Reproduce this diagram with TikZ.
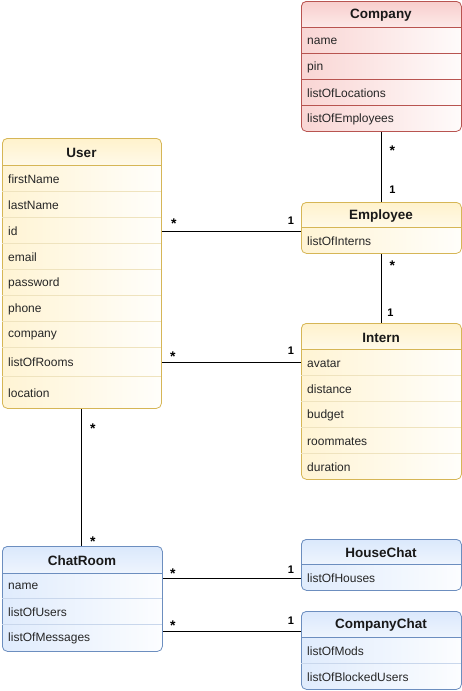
\documentclass[tikz,border=0pt]{standalone}
\usepackage{fontspec}
\setmainfont{Liberation Sans}
\usetikzlibrary{calc}
\definecolor{ufill}{HTML}{FFF2CC}
\definecolor{uline}{HTML}{D6B656}
\definecolor{usep}{HTML}{EFE3BE}
\definecolor{cfill}{HTML}{F8CECC}
\definecolor{cline}{HTML}{B85450}
\definecolor{csep}{HTML}{B85450}
\definecolor{bfill}{HTML}{DAE8FC}
\definecolor{bline}{HTML}{6C8EBF}
\definecolor{bsep}{HTML}{C9D7EC}
\tikzset{
  titletext/.style={font=\bfseries\fontsize{13.5}{14}\selectfont, inner sep=0, text=black!90, yshift=-1.5pt},
  rowtext/.style={font=\fontsize{12}{13}\selectfont, inner xsep=6pt, inner ysep=0, align=left, text=black!85},
  assoc/.style={line width=0.9pt, black},
  mult/.style={font=\bfseries\fontsize{11}{11}\selectfont, inner sep=0, anchor=base},
  star/.style={font=\bfseries\fontsize{14}{14}\selectfont, inner sep=0, anchor=base},
}
\newcommand\umlclass[9]{%
  \begin{scope}
    \clip[rounded corners=5pt] (#2,#4) rectangle (#3,#6);
    \shade[top color=#8fill, bottom color=#8fill!45!white] (#2,#4) rectangle (#3,#5);
    \foreach \kk/\lbl/\ya/\yb in {#9}{%
      \shade[left color=#8fill!85!white, right color=#8fill!8!white] (#2,\ya) rectangle (#3,\yb);}
  \end{scope}
  \node[draw=#8line, line width=0.8pt, rounded corners=5pt, inner sep=0,
        minimum width={(#3-#2)*1pt}, minimum height={(#6-#4)*1pt}, anchor=north west] (#1) at (#2,#4) {};
  \node[titletext] (#1-title) at ({(#2+#3)/2},{(#4+#5)/2}) {#7};
  \foreach \kk/\lbl/\ya/\yb in {#9}{%
    \node[rowtext, text width={(#3-#2-12)*1pt}, minimum height={(\yb-\ya)*1pt}, anchor=north west] (#1-\kk) at (#2,\ya+1) {\lbl};
    \draw[#8sep, line width=0.8pt] (#2,\ya) -- (#3,\ya);
  }
  \draw[#8line, line width=0.8pt] (#2,#5) -- (#3,#5);
}
\begin{document}
\begin{tikzpicture}[x=1pt,y=-1pt]
\useasboundingbox (0,0) rectangle (462,691);

\umlclass{company}{301}{461}{1}{27}{131}{Company}{c}{name/name/27/53, pin/pin/53/79, locs/listOfLocations/79/105, emps/listOfEmployees/105/131}
\umlclass{user}{2}{161}{138}{165}{408}{User}{u}{first/firstName/165/191, last/lastName/191/217, id/id/217/243, email/email/243/269, pw/password/269/295, phone/phone/295/321, comp/company/321/347, rooms/listOfRooms/347/376, loc/location/376/408}
\umlclass{emp}{301}{461}{202}{227}{253}{Employee}{u}{interns/listOfInterns/227/253}
\umlclass{intern}{301}{461}{323}{349}{479}{Intern}{u}{avatar/avatar/349/375, dist/distance/375/401, budget/budget/401/427, mates/roommates/427/453, dur/duration/453/479}
\umlclass{chat}{2}{162}{546}{573}{651}{ChatRoom}{b}{name/name/573/598, users/listOfUsers/598/624, msgs/listOfMessages/624/651}
\umlclass{house}{301}{461}{539}{564}{590}{HouseChat}{b}{houses/listOfHouses/564/590}
\umlclass{cchat}{301}{461}{611}{637}{689}{CompanyChat}{b}{mods/listOfMods/637/663, blocked/listOfBlockedUsers/663/689}

\draw[assoc] (company.south) -- (emp.north)
  node[star, pos=0, xshift=11pt, yshift=-24pt] {*}
  node[mult, pos=1, xshift=11pt, yshift=9pt] {1};
\draw[assoc] (emp.south) -- (intern.north)
  node[star, pos=0, xshift=11pt, yshift=-17pt] {*}
  node[mult, pos=1, xshift=9pt, yshift=7pt] {1};
\draw[assoc] (user.east |- user-id.east) -- (emp.west |- user-id.east)
  node[star, pos=0, xshift=12pt, yshift=3pt] {*}
  node[mult, pos=1, xshift=-10pt, yshift=7pt] {1};
\draw[assoc] (user.east |- user-rooms.east) -- (intern.west |- user-rooms.east)
  node[star, pos=0, xshift=11pt, yshift=1pt] {*}
  node[mult, pos=1, xshift=-10pt, yshift=8pt] {1};
\draw[assoc] (user.south) -- (user.south |- chat.north)
  node[star, pos=0, xshift=11pt, yshift=-25pt] {*}
  node[star, pos=1, xshift=11pt, yshift=0pt] {*};
\draw[assoc] (chat.east |- house-houses.west) -- (house.west |- house-houses.west)
  node[star, pos=0, xshift=10pt, yshift=0pt] {*}
  node[mult, pos=1, xshift=-10pt, yshift=5pt] {1};
\coordinate (ccin) at ($(cchat.west |- cchat-mods.north)+(0,-7)$);
\draw[assoc] (chat.east |- ccin) -- (ccin)
  node[star, pos=0, xshift=10pt, yshift=1pt] {*}
  node[mult, pos=1, xshift=-10pt, yshift=7pt] {1};
\end{tikzpicture}
\end{document}
